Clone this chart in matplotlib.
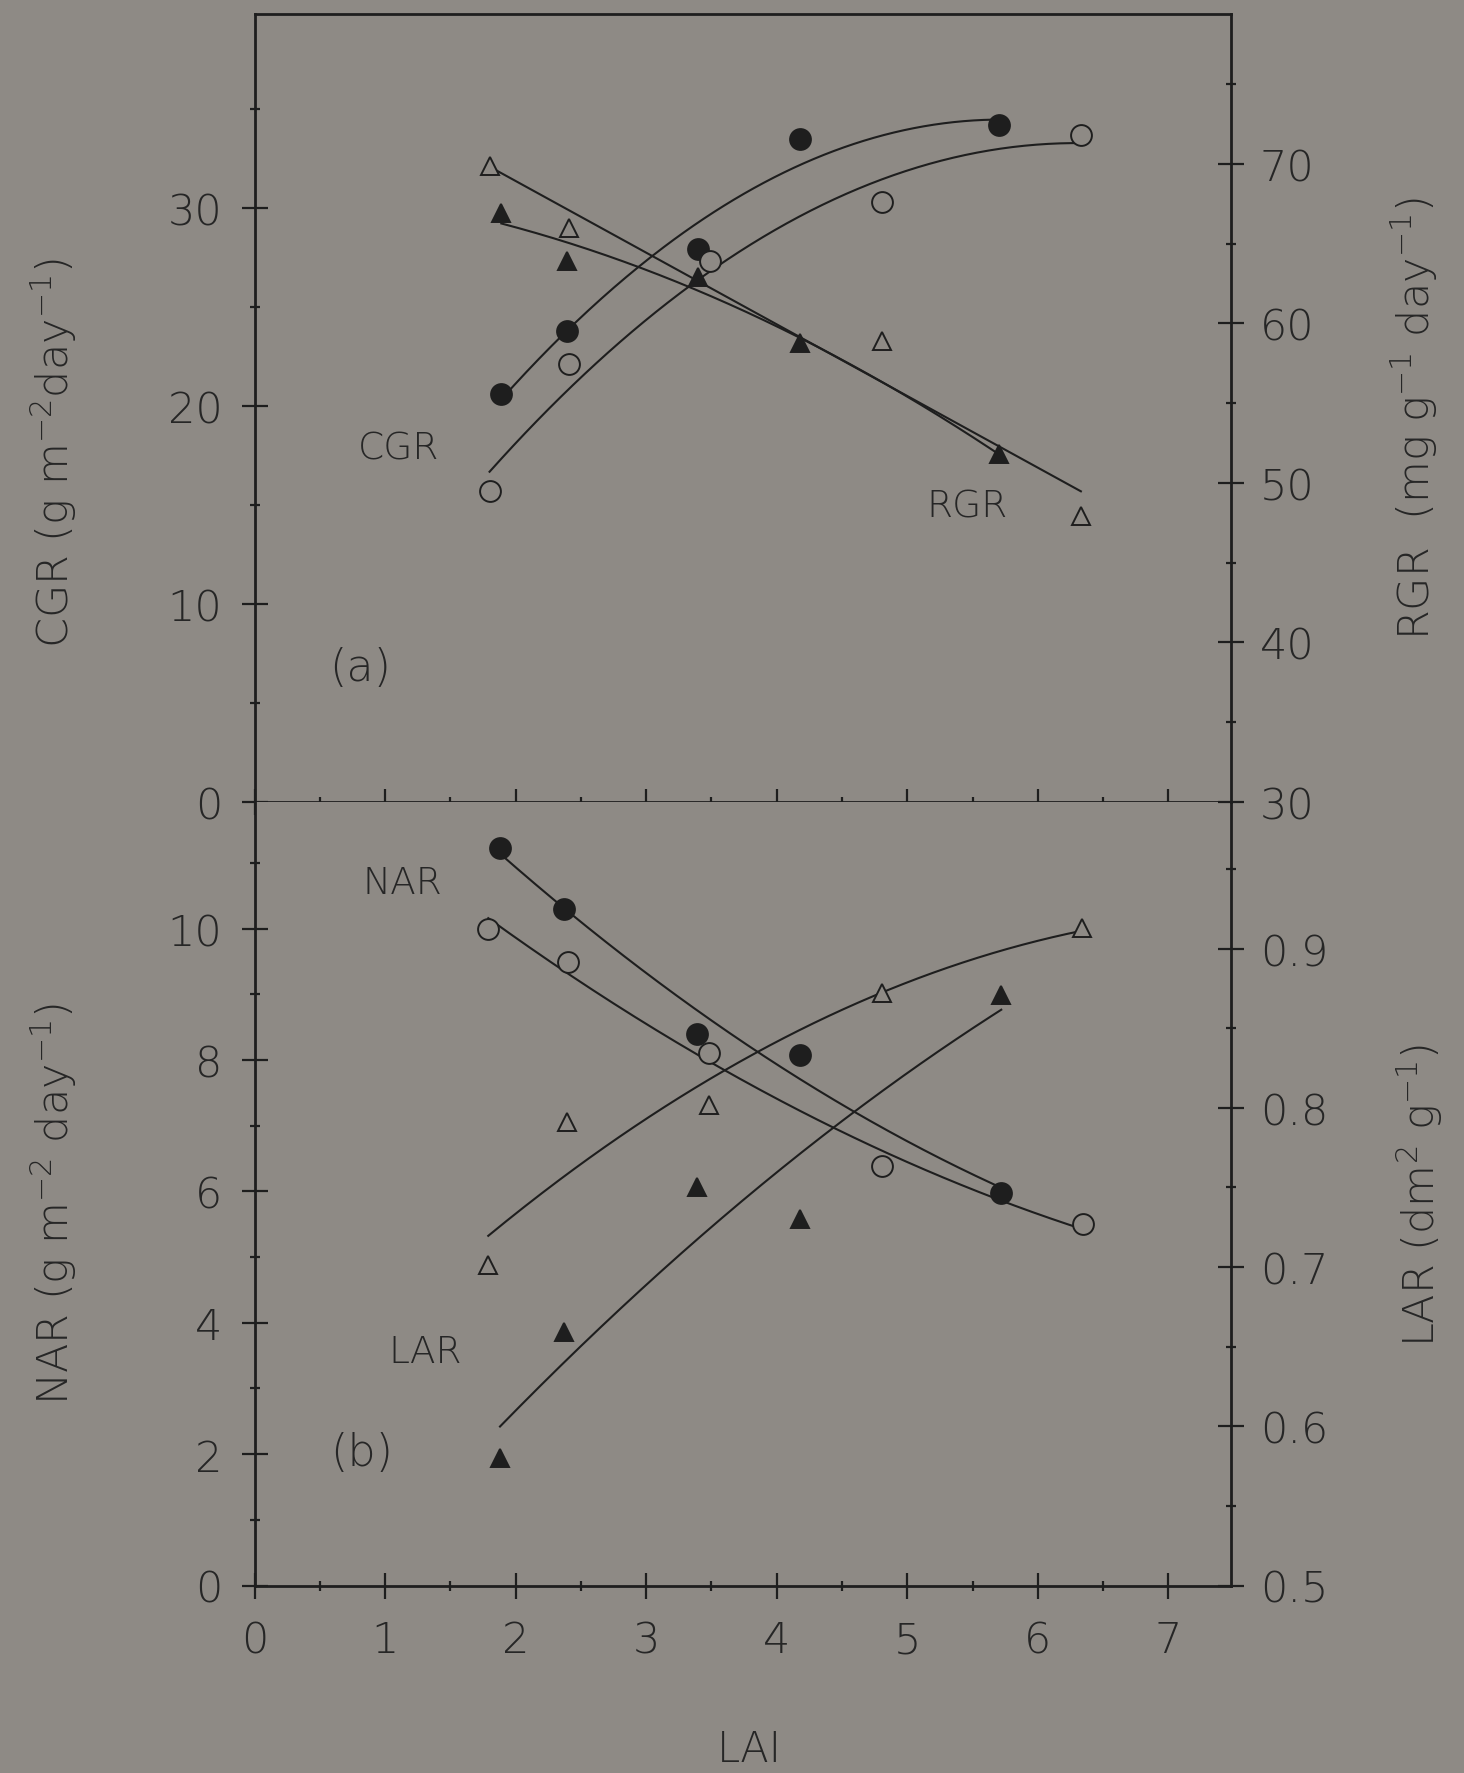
import numpy as np
import matplotlib
matplotlib.use("Agg")
import matplotlib.pyplot as plt
from matplotlib.ticker import MultipleLocator, FixedLocator

# ---------------- data ----------------
# panel (a): CGR (left axis) and RGR (right axis) vs LAI
lai_cgr_f = [1.89, 2.39, 3.40, 4.18, 5.70]
cgr_f = [20.6, 23.8, 27.95, 33.5, 34.2]
lai_cgr_o = [1.80, 2.41, 3.49, 4.81, 6.33]
cgr_o = [15.7, 22.1, 27.3, 30.3, 33.7]
lai_rgr_f = [1.89, 2.39, 3.40, 4.18, 5.70]
rgr_f = [66.9, 63.9, 62.9, 58.8, 51.8]
lai_rgr_o = [1.80, 2.41, 4.81, 6.33]
rgr_o = [69.9, 66.0, 58.9, 47.9]

# panel (b): NAR (left axis) and LAR (right axis) vs LAI
lai_nar_f = [1.88, 2.37, 3.39, 4.18, 5.72]
nar_f = [11.23, 10.30, 8.39, 8.08, 5.98]
lai_nar_o = [1.79, 2.40, 3.48, 4.81, 6.35]
nar_o = [10.0, 9.50, 8.11, 6.39, 5.50]
lai_lar_o = [1.79, 2.39, 3.48, 4.81, 6.34]
lar_o = [0.701, 0.791, 0.802, 0.872, 0.913]
lai_lar_f = [1.88, 2.37, 3.39, 4.18, 5.72]
lar_f = [0.580, 0.659, 0.750, 0.730, 0.871]

x_ticks = [0, 1, 2, 3, 4, 5, 6, 7]

# ---------------- style ----------------
BG = "#8e8a85"
INK = "#1e1e1e"
TXT = "#262626"
FS = 31

plt.rcParams["font.family"] = ["DejaVu Sans"]
plt.rcParams["font.weight"] = "light"
plt.rcParams["mathtext.fontset"] = "dejavusans"

fig = plt.figure(figsize=(14.64, 17.74), dpi=100, facecolor=BG)

W, H = 1464.0, 1774.0
x0, x1 = 254.6, 1231.0
ya_top, ya_bot = 15.0, 803.0
yb_top, yb_bot = 803.0, 1586.5

axA = fig.add_axes([x0 / W, 1 - ya_bot / H, (x1 - x0) / W, (ya_bot - ya_top) / H])
axB = fig.add_axes([x0 / W, 1 - yb_bot / H, (x1 - x0) / W, (yb_bot - yb_top) / H])
axA.set_facecolor(BG)
axB.set_facecolor(BG)
axAr = axA.twinx()
axBr = axB.twinx()


def fit_line(ax, xs, ys, deg):
    c = np.polyfit(xs, ys, deg)
    xx = np.linspace(min(xs), max(xs), 200)
    ax.plot(xx, np.polyval(c, xx), color=INK, lw=1.5, zorder=2)


def pts(ax, xs, ys, marker, filled, ms):
    ax.plot(xs, ys, linestyle="none", marker=marker, ms=ms,
            markerfacecolor=INK if filled else BG, markeredgecolor=INK,
            markeredgewidth=1.4, zorder=3)


# panel (a)
fit_line(axA, lai_cgr_f, cgr_f, 2)
fit_line(axA, lai_cgr_o, cgr_o, 2)
fit_line(axAr, lai_rgr_f, rgr_f, 2)
fit_line(axAr, lai_rgr_o, rgr_o, 1)
pts(axA, lai_cgr_f, cgr_f, "o", True, 15)
pts(axA, lai_cgr_o, cgr_o, "o", False, 15)
pts(axAr, lai_rgr_f, rgr_f, "^", True, 13)
pts(axAr, lai_rgr_o, rgr_o, "^", False, 13)

# panel (b)
fit_line(axB, lai_nar_f, nar_f, 2)
fit_line(axB, lai_nar_o, nar_o, 2)
fit_line(axBr, lai_lar_o, lar_o, 2)
fit_line(axBr, lai_lar_f, lar_f, 2)
pts(axB, lai_nar_f, nar_f, "o", True, 15)
pts(axB, lai_nar_o, nar_o, "o", False, 15)
pts(axBr, lai_lar_o, lar_o, "^", False, 13)
pts(axBr, lai_lar_f, lar_f, "^", True, 13)

# limits
for ax in (axA, axB, axAr, axBr):
    ax.set_xlim(0, 7.48)
axA.set_ylim(0, 39.8)
axAr.set_ylim(30, 79.4)
axB.set_ylim(0, 11.93)
axBr.set_ylim(0.5, 0.992)

# spines
for ax in (axA, axB):
    for s in ("left", "bottom", "top"):
        ax.spines[s].set_color(INK)
        ax.spines[s].set_linewidth(2.0)
    ax.spines["right"].set_visible(False)
axB.spines["top"].set_visible(False)
for ax in (axAr, axBr):
    for s in ("left", "bottom", "top"):
        ax.spines[s].set_visible(False)
    ax.spines["right"].set_color(INK)
    ax.spines["right"].set_linewidth(2.0)

MAJ, MIN = 18.5, 7.5
for ax in (axA, axB):
    ax.xaxis.set_major_locator(FixedLocator(x_ticks))
    ax.xaxis.set_minor_locator(MultipleLocator(0.5))
    ax.tick_params(axis="x", which="both", direction="inout", color=INK,
                   width=1.6, top=False, labelsize=FS, labelcolor=TXT, pad=15)
    ax.tick_params(axis="x", which="major", length=MAJ)
    ax.tick_params(axis="x", which="minor", length=MIN)
    ax.tick_params(axis="y", which="both", direction="inout", color=INK,
                   width=1.6, right=False, labelsize=FS, labelcolor=TXT, pad=14)
    ax.tick_params(axis="y", which="major", length=MAJ)
    ax.tick_params(axis="y", which="minor", length=MIN)
axA.tick_params(axis="x", labelbottom=False)

for ax in (axAr, axBr):
    ax.tick_params(axis="y", which="both", direction="inout", color=INK,
                   width=1.6, labelsize=FS, labelcolor=TXT, pad=11.5)
    ax.tick_params(axis="y", which="major", length=MAJ)
    ax.tick_params(axis="y", which="minor", length=MIN)
    ax.tick_params(axis="x", which="both", bottom=False, top=False,
                   labelbottom=False)

axA.yaxis.set_major_locator(MultipleLocator(10))
axA.yaxis.set_minor_locator(MultipleLocator(5))
axAr.yaxis.set_major_locator(MultipleLocator(10))
axAr.yaxis.set_minor_locator(MultipleLocator(5))
axB.yaxis.set_major_locator(FixedLocator([0, 2, 4, 6, 8, 10]))
axB.yaxis.set_minor_locator(FixedLocator([1, 3, 5, 7, 9, 11]))
axBr.yaxis.set_major_locator(FixedLocator([0.5, 0.6, 0.7, 0.8, 0.9]))
axBr.yaxis.set_minor_locator(FixedLocator([0.55, 0.65, 0.75, 0.85, 0.95]))
axBr.yaxis.set_major_formatter(matplotlib.ticker.FormatStrFormatter("%.1f"))

# in-plot annotations
tk = dict(color=TXT, ha="center", va="center")
axA.text(1.10, 17.9, "CGR", fontsize=27, **tk)
axA.text(5.46, 14.95, "RGR", fontsize=27, **tk)
axA.text(0.81, 6.8, "(a)", fontsize=32, **tk)
axB.text(1.13, 10.71, "NAR", fontsize=27, **tk)
axB.text(1.31, 3.57, "LAR", fontsize=27, **tk)
axB.text(0.82, 2.02, "(b)", fontsize=32, **tk)

# axis titles
lab = dict(color=TXT, ha="center", va="center", rotation=90, fontsize=FS)
fig.text(54 / W, 1 - 453 / H, r"CGR (g m$^{-2}$day$^{-1}$)", **lab)
fig.text(1415 / W, 1 - 418 / H, r"RGR  (mg g$^{-1}$ day$^{-1}$)", **lab)
fig.text(54 / W, 1 - 1204 / H, r"NAR (g m$^{-2}$ day$^{-1}$)", **lab)
fig.text(1420 / W, 1 - 1195 / H, r"LAR (dm$^{2}$ g$^{-1}$)", **lab)
fig.text(749 / W, 1 - 1750 / H, "LAI", color=TXT, ha="center", va="center",
         fontsize=30)

fig.savefig("out.png", dpi=100, facecolor=BG)
